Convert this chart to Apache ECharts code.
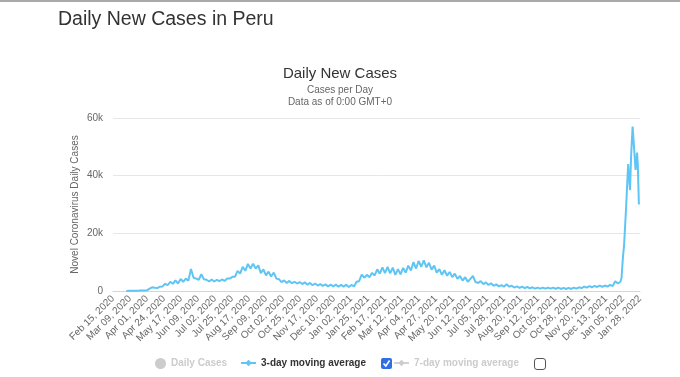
<!DOCTYPE html>
<html>
<head>
<meta charset="utf-8">
<script src="https://cdn.jsdelivr.net/npm/echarts@6/dist/echarts.min.js"></script>
<style>
  html, body { margin: 0; padding: 0; background: #fff; }
  body { border-top: 2px solid #a9a9a9; box-sizing: border-box; width: 680px; height: 377px; }
  #chart { width: 680px; height: 375px; }
</style>
</head>
<body>
<div id="chart"></div>
<script>
  // x axis: days since Feb 15, 2020, a label every 23 days
  const axisStart = Date.UTC(2020, 1, 15);
  const axisDays = 713;
  const tickStep = 23;

  // 3-day moving average (thousands), one value every 3.5 days from day 18 (Mar 04, 2020)
  const avgStartDay = 18;
  const avgStepDays = 3.5;
  const avgCasesK = [
    0.02, 0.05, 0.08, 0.1, 0.12, 0.15, 0.2, 0.2, 0.25, 0.8,
    1.3, 1.1, 1.0, 1.5, 1.6, 2.5, 2.0, 3.2, 2.5, 3.7,
    2.6, 4.2, 3.2, 4.3, 3.6, 7.6, 4.6, 4.3, 3.9, 5.8,
    4.1, 3.9, 3.3, 4.0, 3.3, 3.9, 3.4, 4.0, 3.5, 4.3,
    4.3, 4.9, 4.9, 7.0, 6.0, 8.4, 7.0, 9.4, 7.8, 9.5,
    7.8, 8.9, 6.2, 7.5, 5.4, 6.7, 5.0, 6.4, 4.3, 4.1,
    3.1, 3.7, 2.8, 3.5, 2.7, 3.2, 2.6, 3.1, 2.4, 3.0,
    2.2, 2.8, 2.0, 2.6, 1.9, 2.4, 1.8, 2.3, 1.6, 2.2,
    1.6, 2.2, 1.5, 2.1, 1.5, 2.2, 1.4, 2.1, 1.6, 3.2,
    3.4, 5.7, 4.6, 5.6, 4.8, 6.3, 5.4, 7.5, 6.0, 8.2,
    6.2, 8.4, 6.1, 8.1, 5.6, 7.6, 5.8, 8.0, 6.4, 8.8,
    7.1, 10.0, 7.8, 10.4, 8.4, 10.6, 8.2, 9.8, 7.4, 8.8,
    6.4, 7.6, 5.6, 7.2, 5.3, 6.6, 4.8, 6.0, 4.2, 5.2,
    3.6, 4.8, 3.2, 4.2, 5.2, 3.1, 2.8, 3.4, 2.4, 3.0,
    2.1, 2.7, 1.8, 2.3, 1.6, 2.0, 1.5, 2.3, 1.5, 1.8,
    1.2, 1.6, 1.1, 1.5, 1.0, 1.4, 0.9, 1.3, 0.8, 1.2,
    0.8, 1.2, 0.8, 1.2, 0.8, 1.2, 0.7, 1.2, 0.7, 1.1,
    0.7, 1.1, 0.7, 1.2, 0.8, 1.3, 1.0, 1.5, 1.2, 1.7,
    1.3, 1.8, 1.4, 1.9, 1.4, 1.9, 1.5, 2.1, 1.7, 3.4,
    2.6, 3.2
  ];

  // Omicron surge, finer readings (day, thousands)
  const surgeDays  = [688, 690, 691.5, 694, 697, 698, 699.5, 701, 703, 705, 707, 708, 709, 710, 711.5];
  const surgeCasesK = [4.5, 12, 16, 28, 44, 40, 35, 47, 57, 56.5, 42, 41.5, 48, 44, 30];

  const yTicks = [0, 20000, 40000, 60000];
  const yTickLabels = ['0', '20k', '40k', '60k'];

  const months = ['Jan','Feb','Mar','Apr','May','Jun','Jul','Aug','Sep','Oct','Nov','Dec'];
  function dayLabel(d) {
    const dt = new Date(axisStart + Math.round(d) * 86400000);
    const dd = String(dt.getUTCDate()).padStart(2, '0');
    return months[dt.getUTCMonth()] + ' ' + dd + ', ' + dt.getUTCFullYear();
  }

  const avgData = avgCasesK.map((v, i) => [avgStartDay + i * avgStepDays, v * 1000]);
  surgeDays.forEach((d, i) => avgData.push([d, surgeCasesK[i] * 1000]));

  const font = '"Liberation Sans", Arial, sans-serif';
  const lineColor = '#5fc5f4';

  const myChart = echarts.init(document.getElementById('chart'));
  const option = {
    animation: false,
    textStyle: { fontFamily: font },
    title: [
      {
        text: 'Daily New Cases in Peru',
        left: 53, top: 3,
        textStyle: { fontSize: 19.5, fontWeight: 'normal', color: '#333', fontFamily: font }
      },
      {
        text: 'Daily New Cases',
        subtext: 'Cases per Day\nData as of 0:00 GMT+0',
        left: 'center', top: 59,
        itemGap: 3,
        textStyle: { fontSize: 15, fontWeight: 'normal', color: '#333', fontFamily: font },
        subtextStyle: { fontSize: 10, color: '#666', lineHeight: 12, fontFamily: font }
      }
    ],
    grid: { left: 113, right: 40, top: 116, bottom: 86 },
    legend: [
      {
        data: ['Daily Cases'], left: 150, top: 351,
        icon: 'circle', itemWidth: 11, itemHeight: 11,
        selected: { 'Daily Cases': false },
        inactiveColor: '#ccc',
        textStyle: { fontSize: 10, fontWeight: 'bold', fontFamily: font }
      },
      {
        data: ['3-day moving average'], left: 235, top: 351,
        itemWidth: 15, itemHeight: 8,
        textStyle: { fontSize: 10, fontWeight: 'bold', color: '#333', fontFamily: font }
      },
      {
        data: ['7-day moving average'], left: 388, top: 351,
        itemWidth: 15, itemHeight: 8,
        selected: { '7-day moving average': false },
        inactiveColor: '#ccc',
        textStyle: { fontSize: 10, fontWeight: 'bold', fontFamily: font }
      }
    ],
    xAxis: {
      type: 'value',
      min: 0,
      max: axisDays,
      interval: tickStep,
      axisLine: { show: true, lineStyle: { color: '#ccd6eb' } },
      axisTick: { show: false },
      splitLine: { show: false },
      axisLabel: {
        rotate: 45,
        fontSize: 10,
        color: '#666',
        margin: 6,
        showMinLabel: true,
        showMaxLabel: true,
        formatter: v => dayLabel(v)
      }
    },
    yAxis: {
      type: 'value',
      min: yTicks[0],
      max: yTicks[yTicks.length - 1],
      interval: yTicks[1] - yTicks[0],
      name: 'Novel Coronavirus Daily Cases',
      nameLocation: 'middle',
      nameGap: 33,
      nameMoveOverlap: false,
      nameTextStyle: { fontSize: 10, color: '#666', fontFamily: font },
      axisLine: { show: false },
      axisTick: { show: false },
      splitLine: { lineStyle: { color: '#e6e6e6' } },
      axisLabel: {
        fontSize: 10, color: '#666', margin: 10,
        formatter: v => yTickLabels[yTicks.indexOf(v)]
      }
    },
    series: [
      {
        name: 'Daily Cases',
        type: 'bar',
        data: [],
        itemStyle: { color: '#aaa' }
      },
      {
        name: '3-day moving average',
        type: 'line',
        data: avgData,
        symbol: 'diamond',
        symbolSize: 7,
        showSymbol: false,
        lineStyle: { width: 2, color: lineColor },
        itemStyle: { color: lineColor }
      },
      {
        name: '7-day moving average',
        type: 'line',
        data: [],
        symbol: 'diamond',
        symbolSize: 7,
        itemStyle: { color: '#999' }
      }
    ],
    graphic: [
      {
        type: 'rect',
        shape: { x: 381, y: 356, width: 11, height: 11, r: 2 },
        style: { fill: '#2f6fe4' }
      },
      {
        type: 'polyline',
        shape: { points: [[383.5, 361.5], [385.8, 364], [389.6, 358.5]] },
        style: { stroke: '#fff', lineWidth: 1.6, fill: null }
      },
      {
        type: 'rect',
        shape: { x: 534.5, y: 356.5, width: 11, height: 11, r: 2.5 },
        style: { fill: '#fff', stroke: '#555', lineWidth: 1 }
      }
    ]
  };
  myChart.setOption(option);
</script>
</body>
</html>
